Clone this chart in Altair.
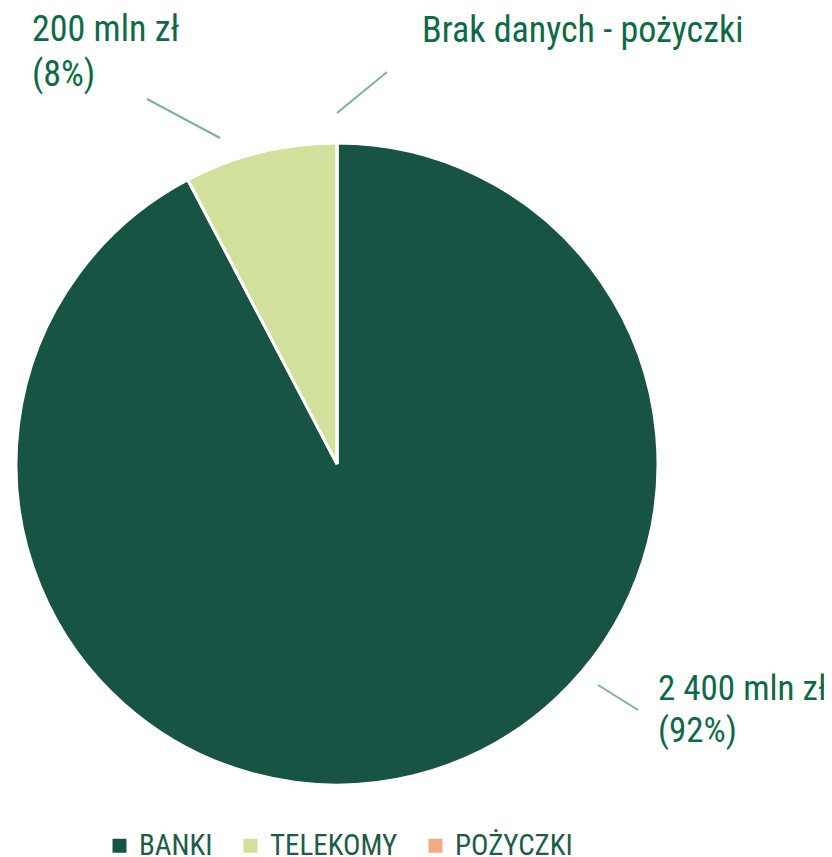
import altair as alt
import pandas as pd

categories = ["BANKI", "TELEKOMY", "POŻYCZKI"]
values = [2400, 200, 0]
order = [0, 1, 2]
colors = ["#185443", "#D1E09B", "#F4AA84"]

label_banki = ["2 400 mln zł", "(92%)"]
label_tele = ["200 mln zł", "(8%)"]
label_poz = "Brak danych - pożyczki"

FONT = "Roboto Condensed, Liberation Sans Narrow, DejaVu Sans Condensed, sans-serif"
TXT = "#0d6a45"
LINE = "#7db39a"

df = pd.DataFrame({"kategoria": categories, "wartosc": values, "kolejnosc": order})

pie = alt.Chart(df).mark_arc(outerRadius=321, stroke="white", strokeWidth=3).encode(
    theta=alt.Theta("wartosc:Q", stack=True),
    order=alt.Order("kolejnosc:Q"),
    color=alt.Color(
        "kategoria:N",
        sort=categories,
        scale=alt.Scale(domain=categories, range=colors),
        legend=alt.Legend(
            title=None,
            orient="none",
            direction="horizontal",
            legendX=97,
            legendY=823,
            symbolType="square",
            symbolSize=196,
            symbolStrokeWidth=0,
            labelFont=FONT,
            labelFontSize=29,
            labelColor="#1d5c45",
            labelOffset=5,
            labelLimit=400,
            columnPadding=23,
            padding=0,
        ),
    ),
    x=alt.value(329),
    y=alt.value(456),
)

one = alt.Data(values=[{"a": 1}])

def rule(x1, y1, x2, y2):
    return alt.Chart(one).mark_rule(color=LINE, strokeWidth=2).encode(
        x=alt.value(x1), y=alt.value(y1), x2=alt.value(x2), y2=alt.value(y2)
    )

def txt(text, x, y, lh, size):
    return alt.Chart(one).mark_text(
        text=text, align="left", baseline="alphabetic", font=FONT,
        fontSize=size, color=TXT, lineHeight=lh
    ).encode(x=alt.value(x), y=alt.value(y))

chart = alt.layer(
    pie,
    rule(139, 91, 212, 130),
    rule(379, 64, 329, 105),
    rule(590, 677, 630, 702),
    txt(label_tele, 24, 33, 45, 36),
    txt(label_poz, 414, 34, 45, 36),
    txt(label_banki, 650, 692, 42, 35),
).properties(
    width=816, height=849, padding=0, autosize=alt.AutoSizeParams(type="none")
).configure_view(stroke=None)

chart.save("out.html", embed_options={"renderer": "svg", "actions": False})
